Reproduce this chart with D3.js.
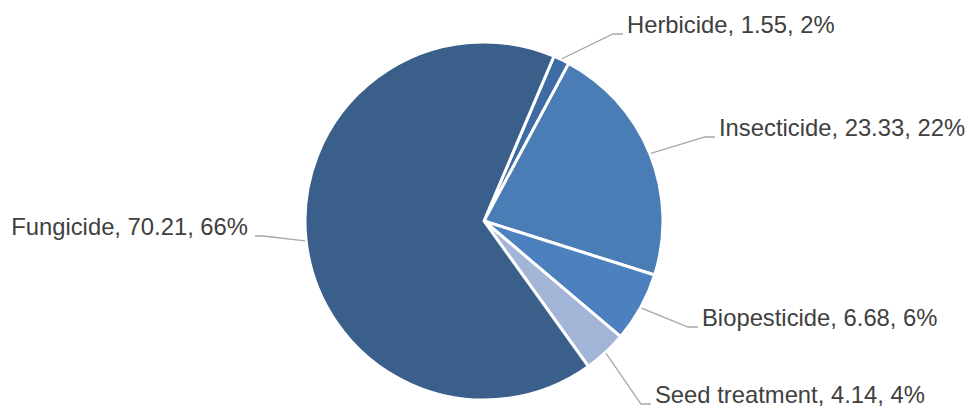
<!DOCTYPE html>
<html>
<head>
<meta charset="utf-8">
<script src="https://cdn.jsdelivr.net/npm/d3@7"></script>
<style>
  html, body { margin: 0; padding: 0; background: #fff; }
  svg { display: block; }
  text { font-family: "Liberation Sans", Arial, sans-serif; }
</style>
</head>
<body>
<svg id="chart" width="971" height="407"></svg>
<script>
// ---- data ----
const categories = ["Herbicide", "Insecticide", "Biopesticide", "Seed treatment", "Fungicide"];
const values = [1.55, 23.33, 6.68, 4.14, 70.21];
const percentLabels = ["2%", "22%", "6%", "4%", "66%"];

// ---- styles / layout ----
const colors = ["#3E6BA3", "#4A7CB6", "#4D80BE", "#A3B5D7", "#3A5F8B"];
const labelPos = [
  { x: 627, y: 33, anchor: "start" },
  { x: 719, y: 136, anchor: "start" },
  { x: 702, y: 326, anchor: "start" },
  { x: 655, y: 403, anchor: "start" },
  { x: 248, y: 235, anchor: "end" }
];

const cx = 484, cy = 221, radius = 179;
const startDeg = 23;

const svg = d3.select("#chart");
const g = svg.append("g").attr("transform", `translate(${cx},${cy})`);

const data = categories.map((c, i) => ({ name: c, value: values[i], pct: percentLabels[i], idx: i }));

const pie = d3.pie()
  .value(d => d.value)
  .sort(null)
  .startAngle(startDeg * Math.PI / 180)
  .endAngle(startDeg * Math.PI / 180 + 2 * Math.PI);

const arcs = pie(data);
const arc = d3.arc().innerRadius(0).outerRadius(radius);

g.selectAll("path.slice")
  .data(arcs)
  .join("path")
  .attr("class", "slice")
  .attr("d", arc)
  .attr("fill", d => colors[d.data.idx])
  .attr("stroke", "#fff")
  .attr("stroke-width", 3)
  .attr("stroke-linejoin", "round");

// leader lines
const fmt = d3.format(".2f");
arcs.forEach(a => {
  const i = a.data.idx;
  const mid = (a.startAngle + a.endAngle) / 2;
  const r0 = radius + 1;
  const sx = cx + r0 * Math.sin(mid);
  const sy = cy - r0 * Math.cos(mid);
  const lp = labelPos[i];
  const ly = lp.y + 1;
  let ex, bx;
  if (lp.anchor === "start") { ex = lp.x - 4; bx = ex - 10; }
  else { ex = lp.x + 7; bx = ex + 8; }
  svg.append("polyline")
    .attr("points", `${sx},${sy} ${bx},${ly} ${ex},${ly}`)
    .attr("fill", "none")
    .attr("stroke", "#A6A6A6")
    .attr("stroke-width", 1.3);
  svg.append("text")
    .attr("x", lp.x)
    .attr("y", lp.y)
    .attr("text-anchor", lp.anchor)
    .attr("font-size", 23.8)
    .attr("fill", "#404040")
    .text(`${a.data.name}, ${fmt(a.data.value)}, ${a.data.pct}`);
});
</script>
</body>
</html>
